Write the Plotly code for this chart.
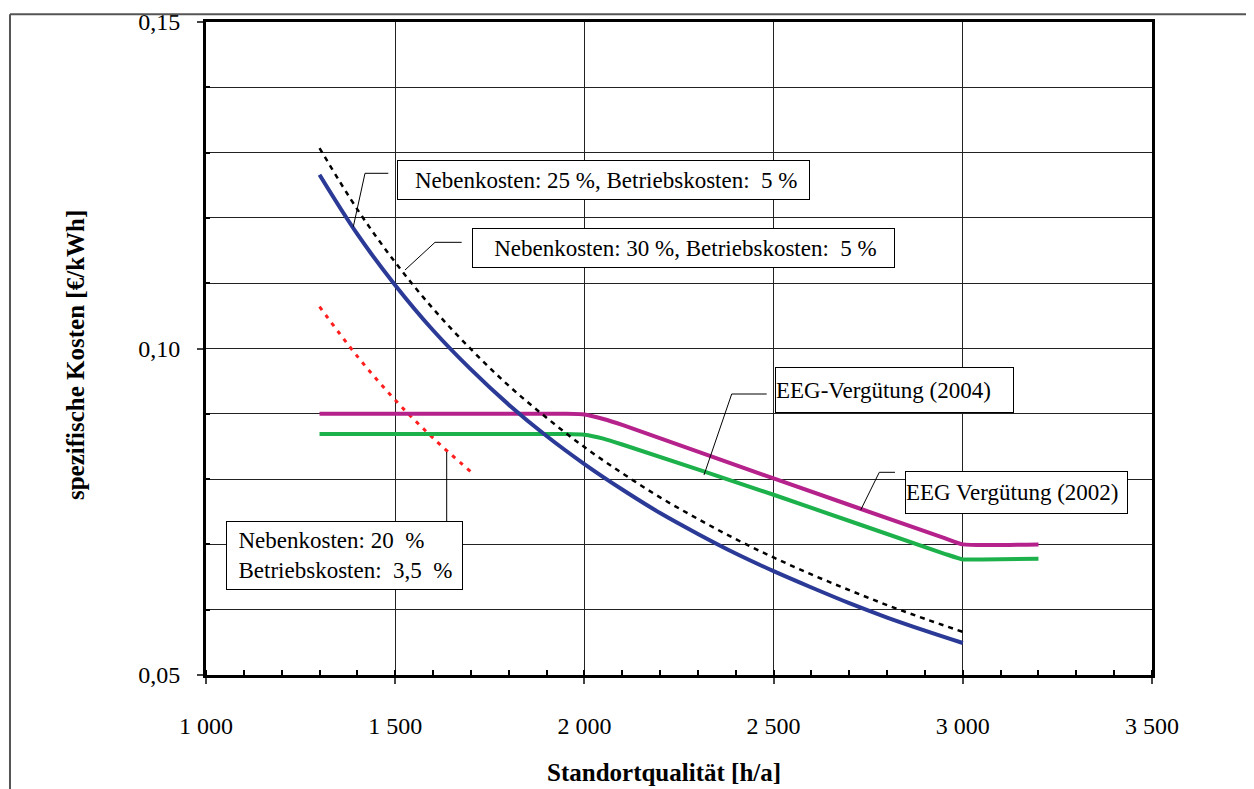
import plotly.graph_objects as go

# ---------------- data ----------------
x_cost = [1300, 1400, 1500, 1600, 1700, 1800, 1900, 2000, 2100, 2200,
          2300, 2400, 2500, 2600, 2700, 2800, 2900, 3000]
cost_25_5 = [0.1266, 0.1175, 0.1097, 0.1028, 0.0968, 0.0914, 0.0866, 0.0823, 0.0784,
             0.0748, 0.0716, 0.0686, 0.0659, 0.0634, 0.0610, 0.0588, 0.0568, 0.0549]
cost_30_5 = [0.1307, 0.1213, 0.1132, 0.1061, 0.0999, 0.0943, 0.0894, 0.0849, 0.0809,
             0.0772, 0.0739, 0.0708, 0.0680, 0.0654, 0.0630, 0.0607, 0.0586, 0.0566]

x_cost_20 = [1300, 1400, 1500, 1600, 1700]
cost_20_35 = [0.1064, 0.0988, 0.0921, 0.0863, 0.0811]

x_eeg2004 = [1300, 1950, 2000, 2050, 2100, 2500, 2950, 3000, 3200]
eeg2004 = [0.0900, 0.0900, 0.0899, 0.0892, 0.0883, 0.0801, 0.0710, 0.0700, 0.0700]

x_eeg2002 = [1300, 1950, 2000, 2050, 2100, 2500, 2950, 3000, 3050, 3200]
eeg2002 = [0.0869, 0.0869, 0.0868, 0.0862, 0.0853, 0.0776, 0.0686, 0.0677, 0.0677, 0.0678]

x_tickvals = [1000, 1500, 2000, 2500, 3000, 3500]
x_ticktext = ["1 000", "1 500", "2 000", "2 500", "3 000", "3 500"]
y_tickvals = [0.05, 0.10, 0.15]
y_ticktext = ["0,05", "0,10", "0,15"]

x_title = "<b>Standortqualität [h/a]</b>"
y_title = "<b>spezifische Kosten [€/kWh]</b>"

NB = "\u00a0"
label_25 = f"Nebenkosten: 25 %, Betriebskosten:{NB}{NB}5 %{NB}{NB}"
label_30 = f"Nebenkosten: 30 %, Betriebskosten:{NB}{NB}5 %{NB}{NB}{NB}"
label_2004 = "EEG-Vergütung (2004)"
label_2002 = "EEG Vergütung (2002)"
label_20 = f"{NB}{NB}Nebenkosten: 20{NB}{NB}%<br>{NB}{NB}Betriebskosten:{NB}{NB}3,5{NB}{NB}%"

FONT = "Liberation Serif, Times New Roman, serif"

fig = go.Figure()
fig.add_trace(go.Scatter(x=x_cost_20, y=cost_20_35, mode="lines",
                         line=dict(color="#FF1E1E", width=3, dash="4px,6px", shape="spline")))
fig.add_trace(go.Scatter(x=x_eeg2002, y=eeg2002, mode="lines",
                         line=dict(color="#1DB14B", width=4, shape="spline", smoothing=0.5)))
fig.add_trace(go.Scatter(x=x_eeg2004, y=eeg2004, mode="lines",
                         line=dict(color="#B5228B", width=4, shape="spline", smoothing=0.5)))
fig.add_trace(go.Scatter(x=x_cost, y=cost_30_5, mode="lines",
                         line=dict(color="black", width=2.5, dash="5px,5px", shape="spline")))
fig.add_trace(go.Scatter(x=x_cost, y=cost_25_5, mode="lines",
                         line=dict(color="#2B3A96", width=4, shape="spline")))

# ---------------- callout boxes ----------------
def box(text, x, y, w, h, align="left"):
    fig.add_annotation(x=x, y=y, xref="x", yref="y", text=text, showarrow=False,
                       xanchor="center", yanchor="middle", width=w, height=h,
                       align=align, valign="middle",
                       bgcolor="white", bordercolor="black", borderwidth=1, borderpad=0,
                       font=dict(family=FONT, size=23, color="black"))

box(label_25, 2050.5, 0.1258, 411, 38, align="right")
box(label_30, 2261.9, 0.1154, 421, 38, align="right")
box(label_2004, 2819.5, 0.0936, 237, 44)
box(label_2002, 3141.9, 0.07795, 221, 41)
box(label_20, 1366, 0.0683, 235, 67)

# leader lines
leaders = [
    [(1481.8, 0.12683), (1420.2, 0.12683), (1389.3, 0.11865)],
    [(1675.7, 0.11626), (1605.2, 0.11626), (1525.9, 0.11202)],
    [(2481.7, 0.09303), (2389.3, 0.09303), (2316.1, 0.08063)],
    [(2820.8, 0.08104), (2779.3, 0.08104), (2730.2, 0.07527)],
    [(1636.1, 0.07144), (1636.1, 0.08415)],
]
for pts in leaders:
    path = "M " + " L ".join(f"{px},{py}" for px, py in pts)
    fig.add_shape(type="path", path=path, xref="x", yref="y",
                  line=dict(color="black", width=1))

# axis titles (placed as annotations to match original offsets)
fig.add_annotation(x=0.4841, y=-0.150, xref="paper", yref="paper", text=x_title,
                   showarrow=False, xanchor="center", yanchor="middle",
                   font=dict(family=FONT, size=25, color="black"))
fig.add_annotation(x=-0.1385, y=0.490, xref="paper", yref="paper", text=y_title,
                   showarrow=False, xanchor="center", yanchor="middle", textangle=-90,
                   font=dict(family=FONT, size=25, color="black"))

# outer frame (left and top edges)
fig.add_shape(type="line", xref="paper", yref="paper", x0=-0.2072, x1=-0.2072,
              y0=1.012, y1=-0.2, line=dict(color="#555", width=2))
fig.add_shape(type="line", xref="paper", yref="paper", x0=-0.2072, x1=1.1,
              y0=1.012, y1=1.012, line=dict(color="#555", width=2))

fig.update_layout(
    width=1246, height=781,
    margin=dict(l=198, r=102, t=14, b=114, autoexpand=False),
    paper_bgcolor="white", plot_bgcolor="white",
    showlegend=False,
    font=dict(family=FONT, color="black"),
)
fig.update_xaxes(
    range=[1000, 3500], tickvals=x_tickvals, ticktext=x_ticktext, automargin=False,
    tickfont=dict(family=FONT, size=24), ticks="outside", ticklen=6, tickwidth=2,
    ticklabelstandoff=21,
    showline=True, linecolor="black", linewidth=3, mirror=True,
    showgrid=True, gridcolor="#222", gridwidth=1,
    minor=dict(dtick=100, ticks="inside", ticklen=5, tickwidth=2, tickcolor="black",
               showgrid=False),
    zeroline=False,
)
fig.update_yaxes(
    range=[0.05, 0.15], tickvals=y_tickvals, ticktext=y_ticktext, automargin=False,
    tickfont=dict(family=FONT, size=24), ticks="outside", ticklen=6, tickwidth=2,
    ticklabelstandoff=12,
    showline=True, linecolor="black", linewidth=3, mirror=True,
    showgrid=True, gridcolor="#222", gridwidth=1,
    minor=dict(tickvals=[0.06, 0.07, 0.08, 0.09, 0.11, 0.12, 0.13, 0.14],
               ticks="inside", ticklen=4, tickwidth=2, tickcolor="black",
               showgrid=True, gridcolor="#222", gridwidth=1),
    zeroline=False,
)

fig.write_html("out.html")
